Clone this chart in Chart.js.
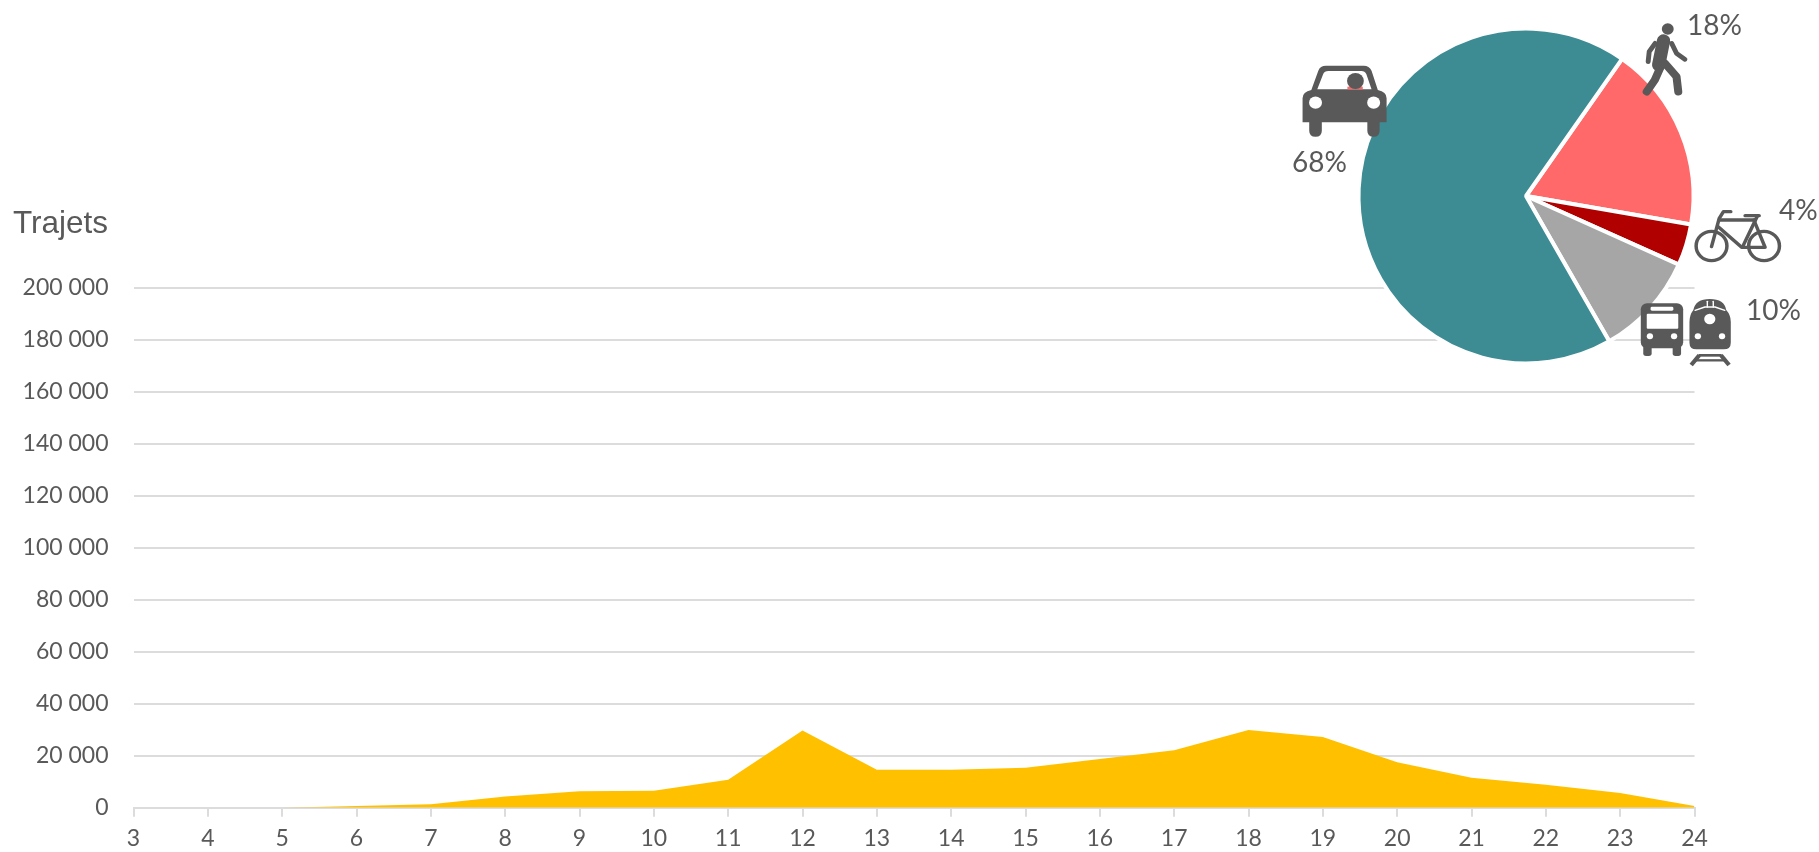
<!DOCTYPE html>
<html lang="fr">
<head>
<meta charset="utf-8">
<title>Trajets</title>
<script src="https://cdn.jsdelivr.net/npm/chart.js@4"></script>
<style>
html,body{margin:0;padding:0;background:#fff;overflow:hidden}
canvas{position:absolute;left:0;top:0}
</style>
</head>
<body>
<canvas id="area" width="1819" height="852"></canvas>
<canvas id="pie" width="1819" height="852"></canvas>
<script>
const hours = ['3','4','5','6','7','8','9','10','11','12','13','14','15','16','17','18','19','20','21','22','23','24'];
const trajets = [0,0,0,650,1300,4300,6300,6500,10800,29700,14600,14600,15400,18700,22100,29900,27200,17500,11500,8800,5700,650];
const axisTitle = 'Trajets';
const modes = ['Marche','Vélo','Transports en commun','Voiture'];
const modeShares = [18,4,10,68];
const modeColors = ['#FF6969','#B00000','#A6A6A6','#3D8C94'];

const INK = '#595959';
const GRID = '#DCDCDC';
const TICK_FONT = {family:'Lato, "Open Sans", sans-serif', size:23};

function fmt(v){ return String(v).replace(/\B(?=(\d{3})+(?!\d))/g,' '); }

const titlePlugin = {
  id:'axisTitle',
  afterDraw(chart){
    const c = chart.ctx;
    c.save();
    c.fillStyle = INK;
    c.font = '31.5px "Liberation Sans", Arial, sans-serif';
    c.textAlign = 'left';
    c.textBaseline = 'alphabetic';
    c.fillText(axisTitle, 13, 233);
    c.restore();
  }
};

new Chart(document.getElementById('area'), {
  type:'line',
  data:{labels:hours, datasets:[{
    data:trajets, fill:'origin', backgroundColor:'#FFC000',
    borderWidth:0, pointRadius:0, tension:0
  }]},
  plugins:[titlePlugin],
  options:{
    responsive:false, animation:false,
    layout:{padding:{top:288,right:124.5,left:0,bottom:0}},
    plugins:{legend:{display:false},tooltip:{enabled:false},title:{display:false}},
    scales:{
      x:{
        offset:false,
        grid:{drawOnChartArea:false,color:GRID,lineWidth:2,tickLength:9},
        border:{color:GRID,width:2},
        ticks:{color:INK,font:TICK_FONT,maxRotation:0,minRotation:0,autoSkip:false,padding:8},
        afterFit(s){ s.height = 44.3; }
      },
      y:{
        min:0,max:200000,
        grid:{color:GRID,lineWidth:2,drawTicks:false},
        border:{display:false},
        ticks:{color:INK,font:TICK_FONT,stepSize:20000,padding:25,callback:v=>fmt(v)},
        afterFit(s){ s.width = 133.5; }
      }
    }
  }
});

/* Pictograms and share labels, drawn in a local frame scaled to the page */
function drawIcons(c){
  c.save();
  c.translate(1270,0);
  c.scale(1/2.856,1/3);
  const circle=(x,y,r,col)=>{c.fillStyle=col;c.beginPath();c.arc(x,y,r,0,Math.PI*2);c.fill();};
  const rr=(x,y,w,h,r,col)=>{c.fillStyle=col;c.beginPath();c.roundRect(x,y,w,h,r);c.fill();};
  const poly=(pts,w)=>{c.lineWidth=w;c.beginPath();pts.forEach((p,i)=>i?c.lineTo(p[0],p[1]):c.moveTo(p[0],p[1]));c.stroke();};
  c.lineCap='round';c.lineJoin='round';c.strokeStyle=INK;

  // car
  c.fillStyle=INK;
  c.fill(new Path2D('M93 367V295Q93 275 118 270L138 212Q143 197 160 197H268Q283 197 290 212L308 270Q333 275 333 295V367H313V392Q313 410 296 410Q278 410 278 392V367H148V392Q148 410 130 410Q112 410 112 392V367Z'));
  c.fillStyle='#fff';
  c.fill(new Path2D('M135 268L152 222Q155 213 167 213H261Q271 213 275 222L290 268Z'));
  c.fillStyle='#FF6969';c.fillRect(221,260,44,8);
  circle(244,243,24,INK);
  circle(130,308,18.5,'#fff');circle(296,308,18.5,'#fff');

  // walker
  circle(1136,87,17,INK);
  poly([[1124,122],[1110,195]],38);
  poly([[1100,130],[1083,155],[1080,185]],14);
  poly([[1147,130],[1161,160],[1185,178]],14);
  poly([[1118,195],[1099,240],[1076,275]],23);
  poly([[1128,190],[1161,230],[1166,275]],23);

  // bicycle
  c.beginPath();c.lineWidth=10;c.arc(1261,738,44,0,Math.PI*2);c.stroke();
  c.beginPath();c.arc(1411,738,44,0,Math.PI*2);c.stroke();
  poly([[1316,635],[1295,635],[1283,655],[1261,740]],10);
  poly([[1283,660],[1385,660]],10);
  poly([[1280,680],[1347,742],[1414,742],[1382,660]],10);
  poly([[1392,648],[1349,742]],10);
  poly([[1357,647],[1397,647]],10);

  // bus
  rr(1059,910,121,135,18,INK);
  rr(1066,1030,24,38,8,INK);rr(1150,1030,24,38,8,INK);
  rr(1076,941,90,45,3,'#fff');
  rr(1087,920,65,12,4,'#fff');
  circle(1085,1009,9,'#fff');circle(1154,1009,9,'#fff');

  // train
  c.fillStyle=INK;
  c.fill(new Path2D('M1198 1028V965Q1198 945 1209 930Q1215 897 1256 897Q1298 897 1303 930Q1316 945 1316 965V1028Q1316 1048 1296 1048H1218Q1198 1048 1198 1028Z'));
  c.strokeStyle='#fff';
  poly([[1214,931],[1242,921],[1271,921],[1299,931]],4);
  poly([[1249,904],[1249,921]],4);poly([[1266,904],[1266,921]],4);
  c.strokeStyle=INK;
  circle(1256,957,16,'#fff');
  circle(1222,1009,9,'#fff');circle(1291,1009,9,'#fff');
  c.lineCap='butt';
  poly([[1203,1095],[1226,1066]],12);poly([[1311,1095],[1288,1066]],12);
  poly([[1224,1066],[1290,1066]],8);
  poly([[1214,1081],[1300,1081]],7);
  c.restore();

  // share labels
  c.save();
  c.fillStyle=INK;
  c.font='28px Lato, "Open Sans", sans-serif';
  c.textAlign='left';c.textBaseline='alphabetic';
  const lab=(i,x,y)=>c.fillText(modeShares[i]+'%',x,y);
  lab(3,1292,172);
  lab(0,1687,35);
  lab(1,1779,220);
  lab(2,1746,320);
  c.restore();
}

const iconPlugin = { id:'icons', afterDraw(chart){ drawIcons(chart.ctx); } };

new Chart(document.getElementById('pie'), {
  type:'pie',
  data:{labels:modes, datasets:[{
    data:modeShares, backgroundColor:modeColors,
    borderColor:'#fff', borderWidth:4, hoverOffset:0
  }]},
  plugins:[iconPlugin],
  options:{
    responsive:false, animation:false,
    rotation:35, radius:167.5,
    layout:{padding:{left:1346,right:113,top:16,bottom:476}},
    plugins:{legend:{display:false},tooltip:{enabled:false}}
  }
});
</script>
</body>
</html>
